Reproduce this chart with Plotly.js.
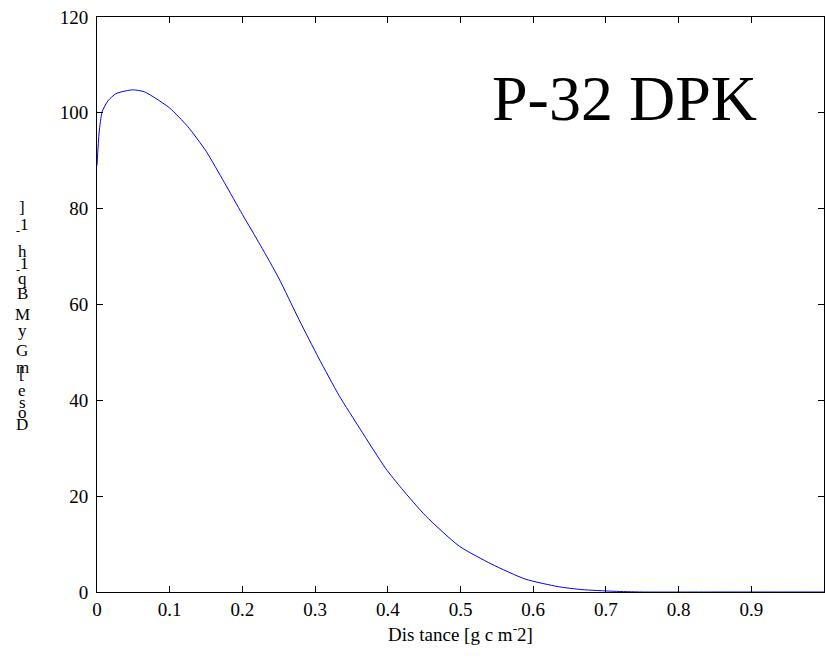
<!DOCTYPE html>
<html>
<head>
<meta charset="utf-8">
<script src="https://cdn.plot.ly/plotly-3.0.1.min.js"></script>
<style>html,body{margin:0;padding:0;background:#fff}#chart{width:825px;height:661px}</style>
</head>
<body>
<div id="chart"></div>
<script>
// Distance [g cm^-2]
var distance = [0, 0.003, 0.007, 0.015, 0.026, 0.04, 0.05, 0.065, 0.081, 0.1, 0.125, 0.15, 0.175, 0.2, 0.225, 0.25, 0.278, 0.305, 0.333, 0.362, 0.397, 0.419, 0.452, 0.498, 0.543, 0.589, 0.635, 0.667, 0.711, 0.75, 0.85, 1.0];
// Dose [mGy MBq-1 h-1]
var dose = [89, 96, 100.2, 102.5, 104, 104.6, 104.8, 104.4, 103, 101, 97.1, 92, 85.5, 78.8, 72.3, 65.5, 56.8, 48.8, 41, 34, 25.8, 21.6, 15.9, 9.6, 5.8, 2.7, 1.1, 0.5, 0.15, 0, 0, 0];
var xTicks = [0, 0.1, 0.2, 0.3, 0.4, 0.5, 0.6, 0.7, 0.8, 0.9];
var xTickLabels = ["0", "0.1", "0.2", "0.3", "0.4", "0.5", "0.6", "0.7", "0.8", "0.9"];
var yTicks = [0, 20, 40, 60, 80, 100, 120];
var chartLabel = "P-32 DPK";
var xTitle = "Dis tance [g c m<sup>-</sup>2]";
// y-axis label characters, stacked top to bottom (as in the original)
var yLabelChars = ["]", "<sub>-</sub>1", "h", "<sub>-</sub>1", "q", "B", "M", "y", "G", "m", "[", "e", "s", "o", "D"];
var yLabelPix = [208, 226, 251, 265, 278, 294, 315, 330, 350, 367, 374, 391, 402, 412, 425];

var L = 97, T = 17, W = 727, H = 575;
var annotations = [{
  text: chartLabel, xref: 'paper', yref: 'paper',
  x: (624 - L) / W, y: (592 - 98) / H, xanchor: 'center', yanchor: 'middle',
  showarrow: false, font: {family: 'Liberation Serif', size: 64, color: '#000'}
}];
for (var i = 0; i < yLabelChars.length; i++) {
  annotations.push({
    text: yLabelChars[i], xref: 'paper', yref: 'paper',
    x: (22 - L) / W, y: (592 - yLabelPix[i]) / H, xanchor: 'center', yanchor: 'middle',
    showarrow: false, font: {family: 'Liberation Serif', size: 17, color: '#000'}
  });
}

var trace = {
  x: distance, y: dose, type: 'scatter', mode: 'lines',
  line: {color: '#0000ff', width: 1, shape: 'spline', smoothing: 0.6}
};
var axisFont = {family: 'Liberation Serif', size: 19, color: '#000'};
var layout = {
  width: 825, height: 661,
  margin: {l: L, r: 825 - L - W, t: T, b: 661 - T - H, pad: 0},
  paper_bgcolor: '#fff', plot_bgcolor: '#fff',
  showlegend: false,
  xaxis: {
    range: [0, 1], tickvals: xTicks, ticktext: xTickLabels,
    ticks: 'inside', ticklen: 6, tickcolor: '#000', tickwidth: 1,
    showline: true, linecolor: '#000', linewidth: 1, mirror: 'allticks',
    showgrid: false, zeroline: false, tickfont: axisFont,
    title: {text: xTitle, font: {family: 'Liberation Serif', size: 19, color: '#000'}, standoff: 8}
  },
  yaxis: {
    range: [0, 120], tickvals: yTicks,
    ticks: 'inside', ticklen: 6, tickcolor: '#000', tickwidth: 1,
    showline: true, linecolor: '#000', linewidth: 1, mirror: 'allticks',
    showgrid: false, zeroline: false, tickfont: axisFont, ticklabelstandoff: 4
  },
  annotations: annotations
};
Plotly.newPlot('chart', [trace], layout, {staticPlot: true, displayModeBar: false});
</script>
</body>
</html>
